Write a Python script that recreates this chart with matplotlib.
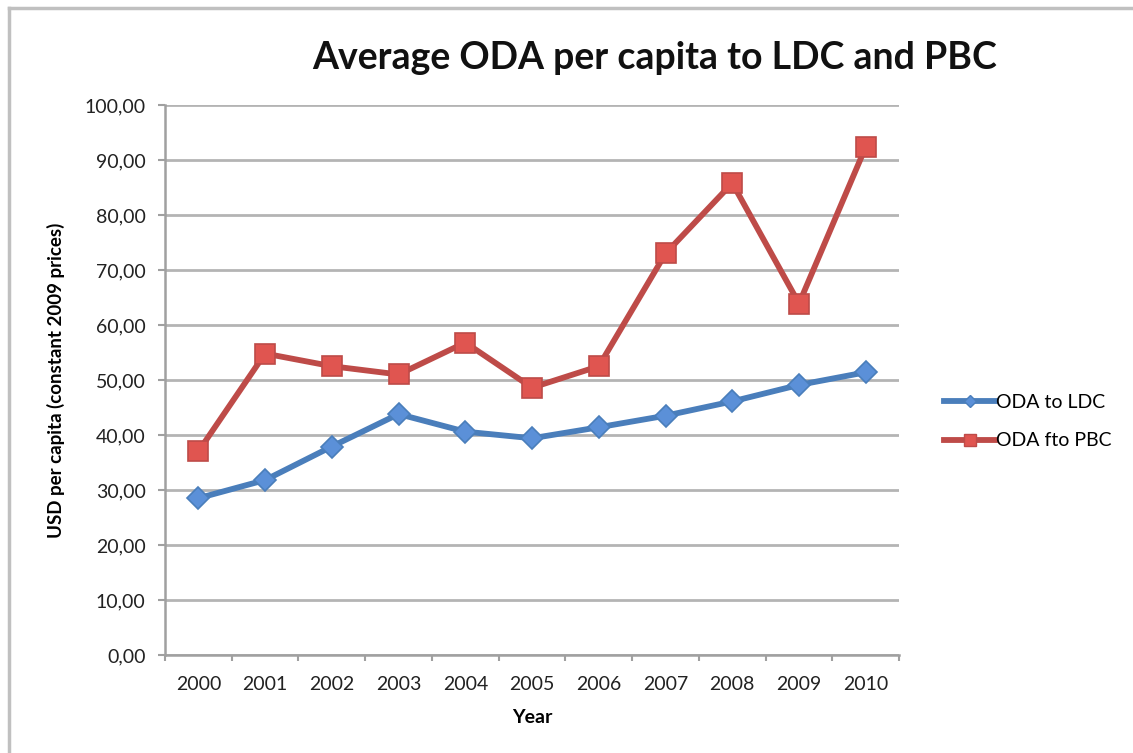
import matplotlib.pyplot as plt
from matplotlib.lines import Line2D

plt.rcParams["font.family"] = ["Lato", "DejaVu Sans"]

years = ["2000", "2001", "2002", "2003", "2004", "2005",
         "2006", "2007", "2008", "2009", "2010"]
oda_ldc = [28.5, 31.8, 37.9, 43.8, 40.6, 39.4, 41.4, 43.5, 46.1, 49.1, 51.4]
oda_pbc = [37.0, 54.8, 52.5, 51.0, 56.8, 48.6, 52.5, 73.0, 85.8, 63.9, 92.4]
y_ticks = [0, 10, 20, 30, 40, 50, 60, 70, 80, 90, 100]

BLUE = "#4a7ebb"
BLUE_FACE = "#5b90d8"
RED = "#be4b48"
RED_FACE = "#e05550"

fig = plt.figure(figsize=(11.33, 7.53), dpi=100)
ax = fig.add_axes([0.1456, 0.1302, 0.648, 0.7304])

x = list(range(len(years)))
ax.plot(x, oda_ldc, color=BLUE, linewidth=4.2, marker="D", markersize=11,
        markerfacecolor=BLUE_FACE, markeredgecolor=BLUE, markeredgewidth=1.2,
        label="ODA to LDC", zorder=3)
ax.plot(x, oda_pbc, color=RED, linewidth=4.2, marker="s", markersize=15,
        markerfacecolor=RED_FACE, markeredgecolor=RED, markeredgewidth=1.2,
        label="ODA fto PBC", zorder=3)

ax.set_xlim(-0.5, len(years) - 0.5)
ax.set_ylim(0, 100)
ax.set_yticks(y_ticks)
ax.set_yticklabels([f"{v:.2f}".replace(".", ",") for v in y_ticks])
ax.set_xticks(x)
ax.set_xticklabels(years)
ax.set_xticks([i - 0.5 for i in range(len(years) + 1)], minor=True)

ax.tick_params(axis="x", which="major", length=0, pad=15, labelsize=14, labelcolor="#222222")
ax.tick_params(axis="x", which="minor", length=4, width=1.5, color="#a0a0a0", direction="out")
ax.tick_params(axis="y", length=5, width=1.5, color="#a0a0a0", pad=9,
               labelsize=14, labelcolor="#222222")

ax.yaxis.grid(True, color="#b4b4b4", linewidth=2)
ax.set_axisbelow(True)
for side in ["top", "right"]:
    ax.spines[side].set_visible(False)
for side in ["left", "bottom"]:
    ax.spines[side].set_color("#a0a0a0")
    ax.spines[side].set_linewidth(1.8)

ax.set_xlabel("Year", fontsize=14, fontweight="bold", labelpad=12)
ax.set_ylabel("USD per capita (constant 2009 prices)", fontsize=13.5,
              fontweight="bold", labelpad=14)

fig.text(0.578, 0.923, "Average ODA per capita to LDC and PBC", ha="center",
         va="center", fontsize=27, fontweight="bold", color="#111111")

handles = [
    Line2D([], [], color=BLUE, linewidth=4.2, marker="D", markersize=6,
           markerfacecolor=BLUE_FACE, markeredgecolor=BLUE),
    Line2D([], [], color=RED, linewidth=4.2, marker="s", markersize=8,
           markerfacecolor=RED_FACE, markeredgecolor=RED),
]
fig.legend(handles, ["ODA to LDC", "ODA fto PBC"], loc="center left",
           bbox_to_anchor=(0.818, 0.44), frameon=False, fontsize=14,
           handlelength=2.6, handletextpad=0.05, labelspacing=1.1)

# outer chart frame (top and left edges)
fig.add_artist(Line2D([0.008, 1.0], [0.99, 0.99], color="#c0c0c0", linewidth=2.5,
                      transform=fig.transFigure))
fig.add_artist(Line2D([0.008, 0.008], [0.0, 0.99], color="#c0c0c0", linewidth=2.5,
                      transform=fig.transFigure))

fig.savefig("out.png", dpi=100)
